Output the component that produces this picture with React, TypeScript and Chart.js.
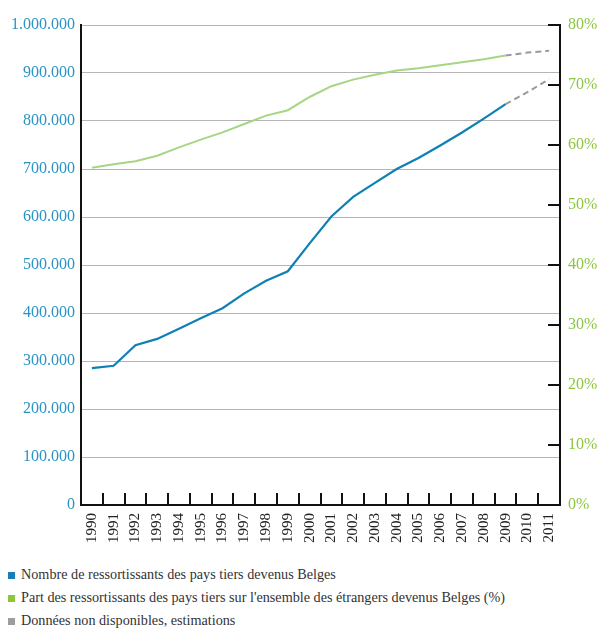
import React, { useEffect, useRef } from "react";
import { Chart, registerables } from "chart.js";

Chart.register(...registerables);

const years = ["1990","1991","1992","1993","1994","1995","1996","1997","1998","1999","2000","2001","2002","2003","2004","2005","2006","2007","2008","2009","2010","2011"];

// Nombre de ressortissants des pays tiers devenus Belges (cumulative)
const nationals = [285000, 290000, 333000, 346000, 367000, 389000, 410000, 441000, 467000, 487000, 545000, 601000, 642000, 671000, 700000, 723000, 749000, 776000, 805000, 835000, null, null];
const nationalsEstimate = [null, null, null, null, null, null, null, null, null, null, null, null, null, null, null, null, null, null, null, 835000, 860000, 887000];

// Part (%) des ressortissants des pays tiers
const share = [56.2, 56.8, 57.3, 58.2, 59.6, 60.9, 62.1, 63.5, 64.9, 65.8, 68.0, 69.8, 70.9, 71.7, 72.4, 72.8, 73.3, 73.8, 74.3, 74.9, null, null];
const shareEstimate = [null, null, null, null, null, null, null, null, null, null, null, null, null, null, null, null, null, null, null, 74.9, 75.4, 75.7];

const legendLabels = [
  "Nombre de ressortissants des pays tiers devenus Belges",
  "Part des ressortissants des pays tiers sur l'ensemble des étrangers devenus Belges (%)",
  "Données non disponibles, estimations",
];
const legendColors = ["#1a7db5", "#8cc63f", "#9d9d9f"];

const BLUE_LINE = "#0f80b4";
const GREEN_LINE = "#a6d683";
const GRAY_LINE = "#9a9a9c";
const FONT = "'Liberation Serif', 'DejaVu Serif', serif";

const fmtThousands = (v: number) => String(v).replace(/\B(?=(\d{3})+(?!\d))/g, ".");

const inwardTicks = {
  id: "inwardTicks",
  afterDraw(chart: any) {
    const { ctx, chartArea, scales } = chart;
    const x = scales.x;
    const y1 = scales.y1;
    ctx.save();
    ctx.strokeStyle = "#111";
    ctx.lineWidth = 2;
    ctx.beginPath();
    const n = x.ticks.length;
    for (let i = 0; i < n - 1; i++) {
      const px = Math.round((x.getPixelForTick(i) + x.getPixelForTick(i + 1)) / 2);
      ctx.moveTo(px, chartArea.bottom);
      ctx.lineTo(px, chartArea.bottom - 12);
    }
    for (const t of y1.ticks) {
      const py = Math.round(y1.getPixelForValue(t.value));
      ctx.moveTo(chartArea.right, py);
      ctx.lineTo(chartArea.right - 12, py);
    }
    ctx.stroke();
    ctx.restore();
  },
};

export default function App() {
  const canvasRef = useRef<HTMLCanvasElement | null>(null);

  useEffect(() => {
    if (!canvasRef.current) return;
    const chart = new Chart(canvasRef.current, {
      type: "line",
      data: {
        labels: years,
        datasets: [
          { label: legendLabels[0], data: nationals, yAxisID: "y", borderColor: BLUE_LINE, borderWidth: 2.2, pointRadius: 0, tension: 0 },
          { label: "est1", data: nationalsEstimate, yAxisID: "y", borderColor: GRAY_LINE, borderWidth: 2, borderDash: [6, 4], pointRadius: 0, tension: 0 },
          { label: legendLabels[1], data: share, yAxisID: "y1", borderColor: GREEN_LINE, borderWidth: 2, pointRadius: 0, tension: 0 },
          { label: "est2", data: shareEstimate, yAxisID: "y1", borderColor: GRAY_LINE, borderWidth: 2, borderDash: [6, 4], pointRadius: 0, tension: 0 },
        ],
      },
      options: {
        animation: false,
        responsive: true,
        maintainAspectRatio: false,
        layout: { padding: { top: 25, left: 0, right: 0, bottom: 0 } },
        plugins: { legend: { display: false }, tooltip: { enabled: false } },
        scales: {
          x: {
            type: "category",
            offset: true,
            grid: { drawOnChartArea: false, drawTicks: false },
            border: { display: true, color: "#111", width: 2 },
            ticks: {
              autoSkip: false,
              maxRotation: 90,
              minRotation: 90,
              padding: 8,
              color: "#222",
              font: { family: FONT, size: 15 },
            },
            afterFit: (s: any) => { s.height = 50; },
          },
          y: {
            position: "left",
            min: 0,
            max: 1000000,
            grid: { color: "#b5b5b5", lineWidth: 1, drawTicks: false },
            border: { display: true, color: "#111", width: 2 },
            ticks: {
              stepSize: 100000,
              padding: 6,
              color: "#2a93c2",
              font: { family: FONT, size: 16 },
              callback: (v: any) => fmtThousands(Number(v)),
            },
            afterFit: (s: any) => { s.width = 81; },
          },
          y1: {
            position: "right",
            min: 0,
            max: 80,
            grid: { drawOnChartArea: false, drawTicks: false },
            border: { display: true, color: "#111", width: 2 },
            ticks: {
              stepSize: 10,
              padding: 8,
              color: "#8cc63f",
              font: { family: FONT, size: 16 },
              callback: (v: any) => `${v}%`,
            },
            afterFit: (s: any) => { s.width = 39; },
          },
        },
      },
      plugins: [inwardTicks],
    } as any);
    return () => chart.destroy();
  }, []);

  return (
    <div style={{ position: "absolute", left: 0, top: 0, width: 599, height: 629, overflow: "hidden", background: "#fff" }}>
      <div style={{ position: "absolute", left: 0, top: 0, width: 599, height: 555 }}>
        <canvas ref={canvasRef} />
      </div>
      <div style={{ position: "absolute", left: 8, top: 563, fontFamily: FONT, fontSize: 14.2, color: "#333", lineHeight: "23px", whiteSpace: "nowrap" }}>
        {legendLabels.map((t, i) => (
          <div key={i} style={{ display: "flex", alignItems: "center" }}>
            <span style={{ display: "inline-block", width: 7, height: 7, background: legendColors[i], marginRight: 6, marginTop: 2 }} />
            <span>{t}</span>
          </div>
        ))}
      </div>
    </div>
  );
}
